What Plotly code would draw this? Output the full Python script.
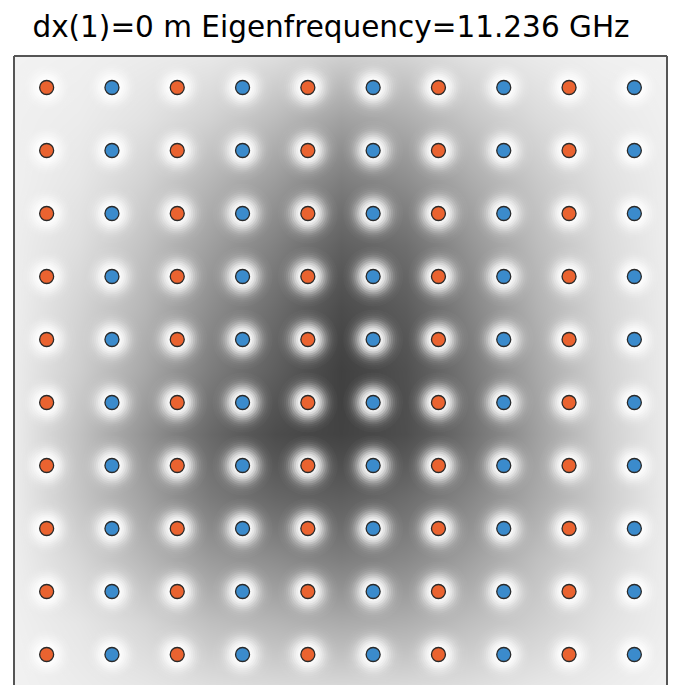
import numpy as np
import plotly.graph_objects as go

# Photonic-crystal cavity: 10 x 10 rod lattice over the |E| field magnitude
title_text = "dx(1)=0 m Eigenfrequency=11.236 GHz"

rod_columns = [1, 2, 3, 4, 5, 6, 7, 8, 9, 10]
rod_rows = [1, 2, 3, 4, 5, 6, 7, 8, 9, 10]
# material of the rods in each column (A = orange, B = blue)
column_material = ["A", "B", "A", "B", "A", "B", "A", "B", "A", "B"]

# field magnitude (normalised) sampled on the interstitial sites between rods
field_x = [0.5, 1.5, 2.5, 3.5, 4.5, 5.5, 6.5, 7.5, 8.5, 9.5, 10.5]
field_y = [0.5, 1.5, 2.5, 3.5, 4.5, 5.5, 6.5, 7.5, 8.5, 9.5, 10.5]
field_mag = [
    [0.00, 0.01, 0.03, 0.05, 0.10, 0.17, 0.15, 0.08, 0.04, 0.01, 0.00],
    [0.01, 0.03, 0.08, 0.16, 0.27, 0.40, 0.34, 0.22, 0.12, 0.05, 0.01],
    [0.01, 0.06, 0.16, 0.30, 0.43, 0.58, 0.50, 0.35, 0.21, 0.09, 0.02],
    [0.02, 0.10, 0.24, 0.41, 0.56, 0.72, 0.65, 0.46, 0.27, 0.12, 0.02],
    [0.02, 0.15, 0.30, 0.50, 0.66, 0.82, 0.74, 0.54, 0.32, 0.14, 0.03],
    [0.03, 0.18, 0.37, 0.58, 0.73, 0.88, 0.80, 0.60, 0.37, 0.16, 0.03],
    [0.03, 0.24, 0.47, 0.68, 0.82, 0.87, 0.81, 0.64, 0.41, 0.18, 0.03],
    [0.03, 0.22, 0.40, 0.59, 0.69, 0.73, 0.66, 0.53, 0.36, 0.19, 0.03],
    [0.02, 0.14, 0.29, 0.43, 0.50, 0.57, 0.52, 0.40, 0.25, 0.13, 0.02],
    [0.01, 0.06, 0.14, 0.25, 0.30, 0.35, 0.33, 0.25, 0.17, 0.08, 0.02],
    [0.00, 0.03, 0.06, 0.10, 0.12, 0.13, 0.12, 0.10, 0.06, 0.03, 0.00],
]

material_colors = {"A": "#ea6330", "B": "#3b8bcc"}

rx, ry, rc = [], [], []
for r in rod_rows:
    for c, m in zip(rod_columns, column_material):
        rx.append(c)
        ry.append(r)
        rc.append(material_colors[m])

fig = go.Figure()

fig.add_trace(go.Heatmap(
    x=field_x, y=field_y, z=field_mag,
    zmin=0, zmax=1, zsmooth="best",
    colorscale=[[0, "#f2f2f2"], [1, "#282828"]],
    showscale=False, hoverinfo="skip",
))

# soft bright glow around each rod, built from stacked translucent discs
radii = np.arange(30, 7, -2)
glow = 0.96 * np.exp(-((radii - 7) / 12.0) ** 2)
prev = 0.0
for rad, g in zip(radii, glow):
    a = 1 - (1 - g) / (1 - prev)
    prev = g
    fig.add_trace(go.Scatter(
        x=rx, y=ry, mode="markers",
        marker=dict(size=2 * rad, color="white", opacity=float(a), line=dict(width=0)),
        hoverinfo="skip", showlegend=False,
    ))

fig.add_trace(go.Scatter(
    x=rx, y=ry, mode="markers",
    marker=dict(size=14, color=rc, line=dict(width=1.3, color="#2a2a2a")),
    showlegend=False,
))

W, H = 677, 685
ml, mr, mt, mb = 14, 10, 56, 0
unit_y = 63.0
y_bottom = 0.5 + (H - mt - mb) / unit_y

fig.update_layout(
    width=W, height=H,
    margin=dict(l=ml, r=mr, t=mt, b=mb),
    paper_bgcolor="white", plot_bgcolor="#f2f2f2",
    title=dict(text=title_text, x=331 / W, xanchor="center",
               y=1 - 26.5 / H, yanchor="middle",
               font=dict(family="DejaVu Sans", size=29.5, color="black")),
    xaxis=dict(range=[0.5, 10.5], visible=False, fixedrange=True),
    yaxis=dict(range=[y_bottom, 0.5], visible=False, fixedrange=True),
    showlegend=False,
    shapes=[
        dict(type="line", xref="paper", yref="paper", x0=0, x1=0, y0=0, y1=1,
             line=dict(color="#555555", width=2)),
        dict(type="line", xref="paper", yref="paper", x0=0, x1=1, y0=1, y1=1,
             line=dict(color="#555555", width=2)),
        dict(type="line", xref="paper", yref="paper", x0=1, x1=1, y0=0, y1=1,
             line=dict(color="#555555", width=2)),
    ],
)

fig.write_html("out.html")
